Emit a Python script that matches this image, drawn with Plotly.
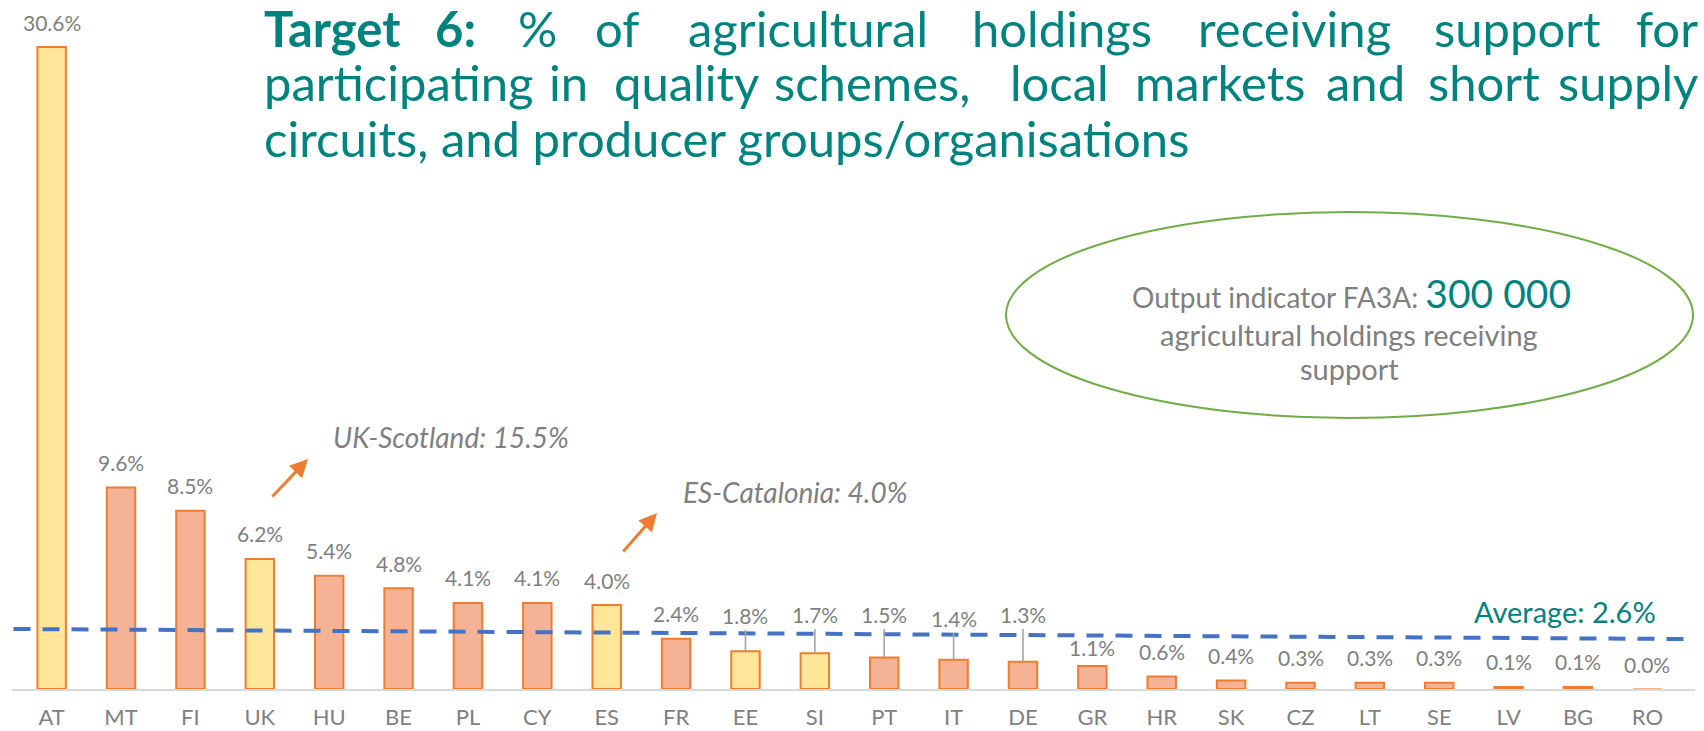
import plotly.graph_objects as go

# ---------------- data ----------------
countries = ["AT", "MT", "FI", "UK", "HU", "BE", "PL", "CY", "ES", "FR", "EE", "SI",
             "PT", "IT", "DE", "GR", "HR", "SK", "CZ", "LT", "SE", "LV", "BG", "RO"]
values = [30.6, 9.6, 8.5, 6.2, 5.4, 4.8, 4.1, 4.1, 4.0, 2.4, 1.8, 1.7,
          1.5, 1.4, 1.3, 1.1, 0.6, 0.4, 0.3, 0.3, 0.3, 0.1, 0.1, 0.0]
highlighted = ["AT", "UK", "ES", "EE", "SI"]
average = 2.6
regional_notes = ["UK-Scotland: 15.5%", "ES-Catalonia: 4.0%"]
output_value = "300 000"

# ---------------- styling ----------------
W, H = 1704, 731
FONT = "Lato"
GRAY = "#7F7F7F"
TEAL = "#00827F"
ORANGE = "#ED7D31"
BAR_ORANGE = "#F6B294"
BAR_YELLOW = "#FFE699"

def pxx(x):
    return x / W

def pyy(y):
    return 1 - y / H

PLOT_LEFT, PLOT_RIGHT = 11.5, 1694.5
PLOT_TOP, PLOT_BOTTOM = 10, 689
PX_PER_UNIT = 20.98
YMAX = (PLOT_BOTTOM - PLOT_TOP) / PX_PER_UNIT

fills = [BAR_YELLOW if c in highlighted else BAR_ORANGE for c in countries]
lines = ["#F4B183" if v == 0 else ORANGE for v in values]

fig = go.Figure()
fig.add_trace(go.Bar(
    x=countries, y=values, width=0.41,
    marker=dict(color=fills, line=dict(color=lines, width=2)),
    hoverinfo="skip", showlegend=False,
))

annotations = []

# data labels
LABEL_FONT = dict(family=FONT, size=21, color=GRAY)
leader_labels = {"EE": 3.48, "SI": 3.53, "PT": 3.53, "IT": 3.34, "DE": 3.53}
label_shift = {"GR": 18}
for c, v in zip(countries, values):
    txt = f"{v:.1f}%"
    if c in leader_labels:
        annotations.append(dict(
            x=c, y=v, ax=c, ay=leader_labels[c], axref="x", ayref="y",
            xref="x", yref="y", text=txt, showarrow=True, arrowhead=0,
            arrowwidth=1.6, arrowcolor="#A5A5A5", standoff=0,
            font=LABEL_FONT))
    else:
        annotations.append(dict(
            x=c, y=v, xref="x", yref="y", text=txt, showarrow=False,
            yanchor="middle", yshift=label_shift.get(c, 25),
            font=LABEL_FONT))

# title, justified word by word
title_font = dict(family=FONT, size=49, color=TEAL)
line1 = [("<b>Target</b>", 262, "left"), ("<b>6:</b>", 455, "center"), ("%", 537, "center"),
         ("of", 617, "center"), ("agricultural", 808, "center"), ("holdings", 1062, "center"),
         ("receiving", 1294, "center"), ("support", 1517, "center"), ("for", 1700, "right")]
line2 = [("participating", 262, "left"), ("in", 568, "center"), ("quality", 686, "center"),
         ("schemes,", 872, "center"), ("local", 1059, "center"), ("markets", 1220, "center"),
         ("and", 1365, "center"), ("short", 1484, "center"), ("supply", 1700, "right")]
line3 = [("circuits, and producer groups/organisations", 262, "left")]
for words, yc in ((line1, 28), (line2, 82), (line3, 138)):
    for w, x, anc in words:
        annotations.append(dict(x=pxx(x), y=pyy(yc), xref="paper", yref="paper", text=w,
                                showarrow=False, xanchor=anc, yanchor="middle", font=title_font))

# ellipse text
annotations.append(dict(
    x=pxx(1351), y=pyy(293), xref="paper", yref="paper", showarrow=False,
    text=f"Output indicator FA3A: <span style='font-size:39px;color:{TEAL}'>{output_value}</span>",
    font=dict(family=FONT, size=28, color=GRAY), xanchor="center", yanchor="middle"))
annotations.append(dict(
    x=pxx(1349), y=pyy(334), xref="paper", yref="paper", showarrow=False,
    text="agricultural holdings receiving", font=dict(family=FONT, size=29, color=GRAY),
    xanchor="center", yanchor="middle"))
annotations.append(dict(
    x=pxx(1349), y=pyy(368), xref="paper", yref="paper", showarrow=False,
    text="support", font=dict(family=FONT, size=29, color=GRAY),
    xanchor="center", yanchor="middle"))

# regional notes
annotations.append(dict(
    x=pxx(331), y=pyy(437), xref="paper", yref="paper", showarrow=False,
    text=f"<i>{regional_notes[0]}</i>", font=dict(family=FONT, size=28, color=GRAY),
    xanchor="left", yanchor="middle"))
annotations.append(dict(
    x=pxx(681), y=pyy(492), xref="paper", yref="paper", showarrow=False,
    text=f"<i>{regional_notes[1]}</i>", font=dict(family=FONT, size=28, color=GRAY),
    xanchor="left", yanchor="middle"))
for (hx, hy, tx, ty) in ((308, 459, 271, 498), (657, 513, 622, 553)):
    annotations.append(dict(
        x=pxx(hx), y=pyy(hy), xref="paper", yref="paper", text="", showarrow=True,
        ax=tx - hx, ay=ty - hy, arrowhead=2, arrowsize=1.2, arrowwidth=3,
        arrowcolor=ORANGE, standoff=0, startstandoff=0))

# average label
annotations.append(dict(
    x=pxx(1565), y=pyy(611), xref="paper", yref="paper", showarrow=False,
    text=f"Average: {average:.1f}%", font=dict(family=FONT, size=29, color=TEAL),
    xanchor="center", yanchor="middle"))

shapes = [
    dict(type="line", xref="x", yref="y", x0=-0.55, x1=23.65,
         y0=average + 0.26, y1=average - 0.22, layer="above",
         line=dict(color="#4472C4", width=4, dash="17px,12px")),
    dict(type="circle", xref="paper", yref="paper",
         x0=pxx(1006), x1=pxx(1693), y0=pyy(418), y1=pyy(212),
         line=dict(color="#70AD47", width=2), fillcolor="rgba(0,0,0,0)"),
]

fig.update_layout(
    width=W, height=H,
    margin=dict(l=0, r=0, t=0, b=0),
    paper_bgcolor="white", plot_bgcolor="white",
    bargap=0.59,
    xaxis=dict(domain=[pxx(PLOT_LEFT), pxx(PLOT_RIGHT)], showgrid=False, zeroline=False,
               showline=True, linecolor="#D9D9D9", linewidth=2, ticks="",
               ticklabelstandoff=8, automargin=False,
               tickfont=dict(family=FONT, size=22, color=GRAY), fixedrange=True),
    yaxis=dict(domain=[pyy(PLOT_BOTTOM), pyy(PLOT_TOP)], range=[0, YMAX], visible=False,
               fixedrange=True, automargin=False),
    annotations=annotations,
    shapes=shapes,
    showlegend=False,
)

fig.write_html(
    "out.html",
    config={"displayModeBar": False, "responsive": False},
    post_script="document.body.style.margin='0';document.body.style.overflow='hidden';",
)
